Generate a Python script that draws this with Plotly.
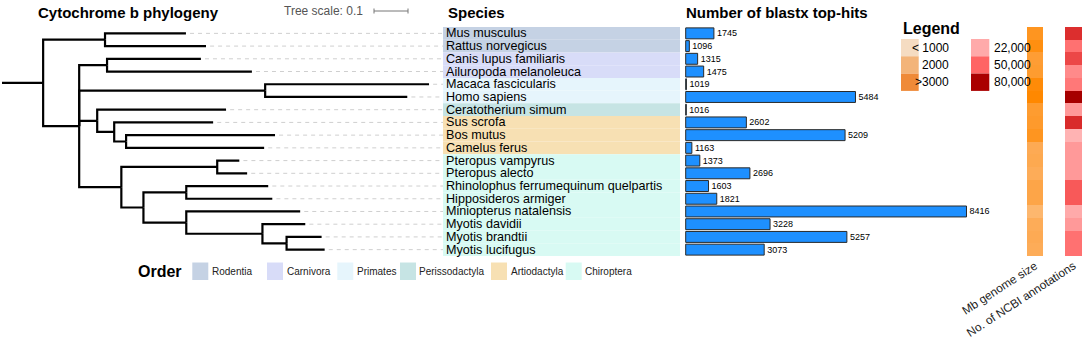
import plotly.graph_objects as go

# ---------------- data ----------------
newick = ("((Mus_musculus:0.238,Rattus_norvegicus:0.297):0.182,"
          "((Canis_lupus_familiaris:0.276,Ailuropoda_melanoleuca:0.426):0.082,"
          "(Macaca_fascicularis:0.482,Homo_sapiens:0.418):0.547,"
          "(Ceratotherium_simum:0.379,(Sus_scrofa:0.291,(Bos_mutus:0.438,Camelus_ferus:0.406):0.035):0.050):0.053,"
          "((Pteropus_vampyrus:0.065,Pteropus_alecto:0.088):0.282,"
          "((Rhinolophus_ferrumequinum_quelpartis:0.241,Hipposideros_armiger:0.253):0.126,"
          "(Miniopterus_natalensis:0.335,(Myotis_davidii:0.126,(Myotis_brandtii:0.103,Myotis_lucifugus:0.112):0.071):0.224):0.126):0.065):0.124):0.106):0.121;")

species = ["Mus musculus", "Rattus norvegicus", "Canis lupus familiaris", "Ailuropoda melanoleuca",
           "Macaca fascicularis", "Homo sapiens", "Ceratotherium simum", "Sus scrofa", "Bos mutus",
           "Camelus ferus", "Pteropus vampyrus", "Pteropus alecto", "Rhinolophus ferrumequinum quelpartis",
           "Hipposideros armiger", "Miniopterus natalensis", "Myotis davidii", "Myotis brandtii",
           "Myotis lucifugus"]
orders = ["Rodentia", "Rodentia", "Carnivora", "Carnivora", "Primates", "Primates", "Perissodactyla",
          "Artiodactyla", "Artiodactyla", "Artiodactyla"] + ["Chiroptera"] * 8
blastx_hits = [1745, 1096, 1315, 1475, 1019, 5484, 1016, 2602, 5209, 1163, 1373, 2696, 1603, 1821,
               8416, 3228, 5257, 3073]
genome_mb = [2700, 2900, 2450, 2500, 3000, 3100, 2500, 2550, 2700, 2050, 2100, 2000, 2200, 2200,
             1800, 2000, 2050, 2000]
ncbi_annotations = [65000, 45000, 58000, 35000, 42000, 82000, 29000, 66000, 20000, 29000, 29000,
                    29000, 53000, 53000, 22000, 29000, 45000, 45000]
order_names = ["Rodentia", "Carnivora", "Primates", "Perissodactyla", "Artiodactyla", "Chiroptera"]
order_colors = ["#c5d2e4", "#d8dcf8", "#e6f5fc", "#c6e4e4", "#f7e0b3", "#d8faf3"]
size_labels = ["< 1000", "2000", ">3000"]
size_colors = ["#f5dcc2", "#f3b479", "#ef8a38"]
annot_labels = ["22,000", "50,000", "80,000"]
annot_colors = ["#ffaaaa", "#ff6464", "#aa0000"]
heat_labels = ["Mb genome size", "No. of NCBI annotations"]
bar_base = 1000
tree_scale = 0.1

FONT = "Liberation Sans, Arial, sans-serif"
W, H = 1084, 337
def px(x): return x / W
def py(y): return 1 - y / H

# ---------------- parse newick ----------------
def parse(s):
    pos = [0]
    def node():
        n = {"children": [], "name": "", "len": 0.0}
        if s[pos[0]] == "(":
            pos[0] += 1
            while True:
                n["children"].append(node())
                if s[pos[0]] == ",":
                    pos[0] += 1
                    continue
                pos[0] += 1  # ')'
                break
        start = pos[0]
        while s[pos[0]] not in ":,);":
            pos[0] += 1
        n["name"] = s[start:pos[0]].replace("_", " ")
        if s[pos[0]] == ":":
            pos[0] += 1
            start = pos[0]
            while s[pos[0]] not in ",);":
                pos[0] += 1
            n["len"] = float(s[start:pos[0]])
        return n
    return node()

root = parse(newick)
def layout_tree(n, x0):
    n["x"] = x0 + n["len"]
    if not n["children"]:
        n["y"] = species.index(n["name"])
    else:
        for c in n["children"]:
            layout_tree(c, n["x"])
        n["y"] = (n["children"][0]["y"] + n["children"][-1]["y"]) / 2
layout_tree(root, 0.0)

lx, ly, dx, dy = [], [], [], []
tree_max = 441 / 340
lx += [0, root["x"], None]; ly += [root["y"], root["y"], None]
def walk(n):
    for c in n["children"]:
        lx.extend([n["x"], n["x"], c["x"], None])
        ly.extend([n["y"], c["y"], c["y"], None])
        walk(c)
    if not n["children"]:
        dx.extend([n["x"] + 0.012, tree_max, None])
        dy.extend([n["y"], n["y"], None])
walk(root)

rows = list(range(len(species)))
fig = go.Figure()

# species background bands
fig.add_trace(go.Bar(x=[1] * len(species), y=rows, base=0, orientation="h", width=1,
                     marker=dict(color=[order_colors[order_names.index(o)] for o in orders], line=dict(width=0)),
                     xaxis="x2", yaxis="y", hoverinfo="skip", showlegend=False))
# dashed guides
fig.add_trace(go.Scatter(x=dx, y=dy, mode="lines", line=dict(color="#cfcfcf", width=1, dash="4px,4px"),
                         xaxis="x", yaxis="y", hoverinfo="skip", showlegend=False))
# tree
fig.add_trace(go.Scatter(x=lx, y=ly, mode="lines", line=dict(color="black", width=2.2),
                         xaxis="x", yaxis="y", hoverinfo="skip", showlegend=False))
# bars
fig.add_trace(go.Bar(x=[v - bar_base for v in blastx_hits], y=rows, base=bar_base, orientation="h",
                     width=0.86, marker=dict(color="#1e90ff", line=dict(color="#2a2a2a", width=1)),
                     text=[str(v) for v in blastx_hits], textposition="outside", constraintext="none",
                     cliponaxis=False, textfont=dict(size=9, color="black", family=FONT),
                     xaxis="x3", yaxis="y", hoverinfo="skip", showlegend=False))
# heatmaps
fig.add_trace(go.Heatmap(z=[[v] for v in genome_mb], x=[heat_labels[0]], y=rows, xaxis="x4", yaxis="y",
                         zmin=1000, zmax=3100, showscale=False, hoverinfo="skip",
                         colorscale=[[0, "#fde4c8"], [1000 / 2100, "#fdac58"], [1, "#ff8800"]]))
fig.add_trace(go.Heatmap(z=[[v] for v in ncbi_annotations], x=[heat_labels[1]], y=rows, xaxis="x5", yaxis="y",
                         zmin=15000, zmax=85000, showscale=False, hoverinfo="skip",
                         colorscale=[[0, "#ffc8c8"], [7 / 70, "#ffaaaa"], [35 / 70, "#ff6464"],
                                     [50 / 70, "#dc2e2e"], [65 / 70, "#aa0000"], [1, "#a00000"]]))

# species labels
annotations = []
for i, s in enumerate(species):
    annotations.append(dict(x=0.003, y=i, xref="x2", yref="y", text=s, showarrow=False, xanchor="left",
                            yanchor="middle", font=dict(size=12.6, color="black", family=FONT)))

# headers
def header(x, y, t, size=15):
    annotations.append(dict(x=px(x), y=py(y), xref="paper", yref="paper", text="<b>%s</b>" % t,
                            showarrow=False, xanchor="left", yanchor="middle",
                            font=dict(size=size, color="black", family=FONT)))
header(36, 12, "Cytochrome b phylogeny")
header(446, 12, "Species")
header(684, 12, "Number of blastx top-hits")
header(901, 29, "Legend", 16)
header(136, 271, "Order", 16)
annotations.append(dict(x=px(282), y=py(11), xref="paper", yref="paper", text="Tree scale: 0.1",
                        showarrow=False, xanchor="left", yanchor="middle",
                        font=dict(size=12, color="#555", family=FONT)))

shapes = []
# tree scale bar
sx0 = (374 - 2) / 340
shapes.append(dict(type="line", xref="x", yref="paper", x0=sx0, x1=sx0 + tree_scale, y0=py(11), y1=py(11),
                   line=dict(color="#777", width=1)))
for xx in (sx0, sx0 + tree_scale):
    shapes.append(dict(type="line", xref="x", yref="paper", x0=xx, x1=xx, y0=py(8.5), y1=py(13.5),
                       line=dict(color="#777", width=1)))

# order legend
sw_x = [192.3, 267, 337.3, 400, 491, 565.7]
for xx, name, col in zip(sw_x, order_names, order_colors):
    shapes.append(dict(type="rect", xref="paper", yref="paper", x0=px(xx), x1=px(xx + 16),
                       y0=py(280), y1=py(262.5), fillcolor=col, line=dict(width=0)))
    annotations.append(dict(x=px(xx + 17.5), y=py(271.5), xref="paper", yref="paper", text=name,
                            showarrow=False, xanchor="left", yanchor="middle",
                            font=dict(size=10, color="#222", family=FONT)))

# right legend
for k in range(3):
    y0, y1 = 39 + k * 17.3, 39 + (k + 1) * 17.3
    shapes.append(dict(type="rect", xref="paper", yref="paper", x0=px(901), x1=px(918.7),
                       y0=py(y1), y1=py(y0), fillcolor=size_colors[k], line=dict(width=0)))
    shapes.append(dict(type="rect", xref="paper", yref="paper", x0=px(971), x1=px(989.3),
                       y0=py(y1), y1=py(y0), fillcolor=annot_colors[k], line=dict(width=0)))
    annotations.append(dict(x=px(951), y=py((y0 + y1) / 2), xref="paper", yref="paper", text=size_labels[k],
                            showarrow=False, xanchor="right", yanchor="middle",
                            font=dict(size=12, color="black", family=FONT)))
    annotations.append(dict(x=px(991.5), y=py((y0 + y1) / 2), xref="paper", yref="paper", text=annot_labels[k],
                            showarrow=False, xanchor="left", yanchor="middle",
                            font=dict(size=12, color="black", family=FONT)))

hidden = dict(visible=False, showgrid=False, zeroline=False, fixedrange=True, automargin=False)
tick_ax = dict(showgrid=False, zeroline=False, showline=False, ticks="", tickangle=-33, automargin=False,
               ticklabelstandoff=0, tickfont=dict(size=11.8, color="#222", family=FONT), anchor="y",
               type="category", fixedrange=True)

fig.update_layout(
    width=W, height=H, margin=dict(l=0, r=0, t=0, b=0, autoexpand=False),
    paper_bgcolor="white", plot_bgcolor="white", barmode="overlay", showlegend=False,
    font=dict(family=FONT), hovermode=False,
    xaxis=dict(hidden, domain=[px(2), px(443)], range=[0, tree_max], anchor="y"),
    xaxis2=dict(hidden, domain=[px(443), px(685)], range=[0, 1], anchor="y"),
    xaxis3=dict(hidden, domain=[px(680), px(1020)], range=[849.5, 9829], anchor="y"),
    xaxis4=dict(tick_ax, domain=[px(1027), px(1043)]),
    xaxis5=dict(tick_ax, domain=[px(1065), px(1082)]),
    yaxis=dict(hidden, domain=[py(256), py(27)], range=[17.5, -0.5]),
    annotations=annotations, shapes=shapes,
)
fig.write_html("out.html", config={"displayModeBar": False, "staticPlot": True},
               post_script="document.body.style.margin='0';document.body.style.overflow='hidden';")
